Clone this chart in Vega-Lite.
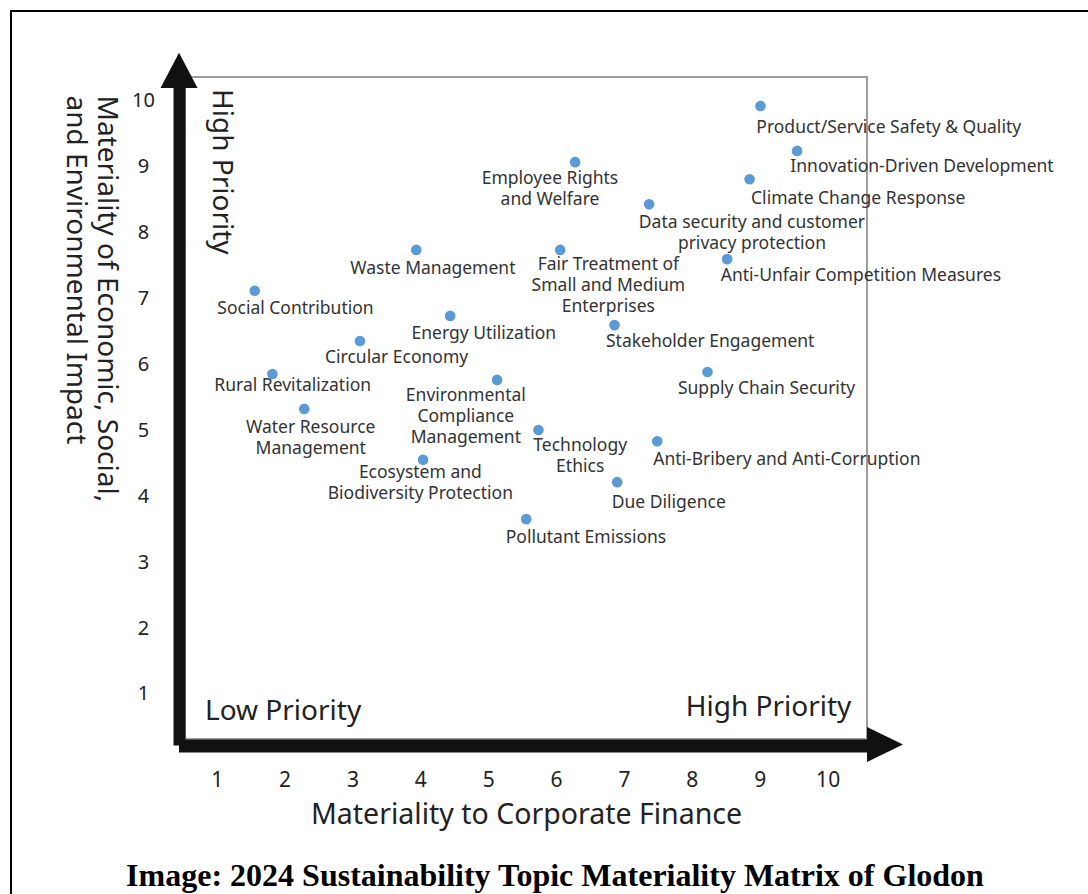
{
  "$schema": "https://vega.github.io/schema/vega-lite/v6.json",
  "autosize": {"type": "none"},
  "padding": {"left": 185, "top": 77, "right": 221, "bottom": 155},
  "width": 682,
  "height": 662,
  "title": {
    "text": "Image: 2024 Sustainability Topic Materiality Matrix of Glodon",
    "orient": "bottom",
    "anchor": "middle",
    "frame": "group",
    "font": "Liberation Serif",
    "fontSize": 32,
    "fontWeight": "bold",
    "color": "#000000",
    "baseline": "alphabetic",
    "offset": -9,
    "dx": 29
  },
  "datasets": {
    "topics": [
      {"topic": "Product/Service Safety & Quality", "x": 9.01, "y": 9.91, "label": ["Product/Service Safety & Quality"], "lx": 10.90, "ly": 9.58},
      {"topic": "Innovation-Driven Development", "x": 9.55, "y": 9.23, "label": ["Innovation-Driven Development"], "lx": 11.39, "ly": 8.98},
      {"topic": "Climate Change Response", "x": 8.85, "y": 8.80, "label": ["Climate Change Response"], "lx": 10.45, "ly": 8.50},
      {"topic": "Employee Rights and Welfare", "x": 6.28, "y": 9.06, "label": ["Employee Rights", "and Welfare"], "lx": 5.91, "ly": 8.803},
      {"topic": "Data security and customer privacy protection", "x": 7.37, "y": 8.42, "label": ["Data security and customer", "privacy protection"], "lx": 8.885, "ly": 8.132},
      {"topic": "Fair Treatment of Small and Medium Enterprises", "x": 6.06, "y": 7.73, "label": ["Fair Treatment of", "Small and Medium", "Enterprises"], "lx": 6.77, "ly": 7.50},
      {"topic": "Anti-Unfair Competition Measures", "x": 8.52, "y": 7.59, "label": ["Anti-Unfair Competition Measures"], "lx": 10.49, "ly": 7.33},
      {"topic": "Waste Management", "x": 3.94, "y": 7.73, "label": ["Waste Management"], "lx": 4.185, "ly": 7.435},
      {"topic": "Social Contribution", "x": 1.56, "y": 7.11, "label": ["Social Contribution"], "lx": 2.16, "ly": 6.83},
      {"topic": "Energy Utilization", "x": 4.44, "y": 6.73, "label": ["Energy Utilization"], "lx": 4.935, "ly": 6.45},
      {"topic": "Circular Economy", "x": 3.11, "y": 6.35, "label": ["Circular Economy"], "lx": 3.65, "ly": 6.085},
      {"topic": "Stakeholder Engagement", "x": 6.86, "y": 6.59, "label": ["Stakeholder Engagement"], "lx": 8.27, "ly": 6.33},
      {"topic": "Rural Revitalization", "x": 1.82, "y": 5.85, "label": ["Rural Revitalization"], "lx": 2.12, "ly": 5.66},
      {"topic": "Environmental Compliance Management", "x": 5.13, "y": 5.76, "label": ["Environmental", "Compliance", "Management"], "lx": 4.67, "ly": 5.52},
      {"topic": "Supply Chain Security", "x": 8.23, "y": 5.88, "label": ["Supply Chain Security"], "lx": 9.10, "ly": 5.62},
      {"topic": "Water Resource Management", "x": 2.29, "y": 5.32, "label": ["Water Resource", "Management"], "lx": 2.385, "ly": 5.026},
      {"topic": "Technology Ethics", "x": 5.74, "y": 5.0, "label": ["Technology", "Ethics"], "lx": 6.355, "ly": 4.758},
      {"topic": "Anti-Bribery and Anti-Corruption", "x": 7.49, "y": 4.83, "label": ["Anti-Bribery and Anti-Corruption"], "lx": 9.40, "ly": 4.545},
      {"topic": "Ecosystem and Biodiversity Protection", "x": 4.04, "y": 4.55, "label": ["Ecosystem and", "Biodiversity Protection"], "lx": 4.00, "ly": 4.344},
      {"topic": "Due Diligence", "x": 6.90, "y": 4.21, "label": ["Due Diligence"], "lx": 7.66, "ly": 3.89},
      {"topic": "Pollutant Emissions", "x": 5.56, "y": 3.65, "label": ["Pollutant Emissions"], "lx": 6.44, "ly": 3.36}
    ]
  },
  "layer": [
    {
      "data": {"values": [
        {"x": -2.045, "x2": 15, "y": 11.35, "y2": 11.35},
        {"x": -2.03, "x2": -2.03, "y": 11.35, "y2": -2.03}
      ]},
      "mark": {"type": "rule", "stroke": "#000000", "strokeWidth": 2},
      "encoding": {
        "x": {"field": "x", "type": "quantitative"},
        "x2": {"field": "x2"},
        "y": {"field": "y", "type": "quantitative"},
        "y2": {"field": "y2"}
      }
    },
    {
      "mark": {"type": "rule", "stroke": "#9e9e9e", "strokeWidth": 2},
      "encoding": {"x": {"datum": 5.57, "type": "quantitative"}}
    },
    {
      "mark": {"type": "rule", "stroke": "#9e9e9e", "strokeWidth": 2},
      "encoding": {"y": {"datum": 5.32, "type": "quantitative"}}
    },
    {
      "data": {"name": "topics"},
      "mark": {"type": "circle", "size": 113, "fill": "#5b9bd5", "opacity": 1},
      "encoding": {
        "x": {"field": "x", "type": "quantitative",
          "scale": {"domain": [0.533, 10.58], "nice": false, "zero": false},
          "axis": {
            "values": [1, 2, 3, 4, 5, 6, 7, 8, 9, 10],
            "format": "d",
            "offset": 6.5,
            "domainWidth": 13,
            "domainColor": "#111111",
            "domainCap": "square",
            "ticks": false,
            "grid": false,
            "labelFontSize": 21,
            "labelPadding": 41,
            "labelBaseline": "alphabetic",
            "labelColor": "#222222",
            "labelFont": "Noto Sans",
            "title": "Materiality to Corporate Finance",
            "titleFont": "Noto Sans",
            "titleFontSize": 28.5,
            "titleFontWeight": "normal",
            "titleColor": "#222222",
            "titleBaseline": "alphabetic",
            "titleY": 77.5
          }
        },
        "y": {"field": "y", "type": "quantitative",
          "scale": {"domain": [0.318, 10.35], "nice": false, "zero": false},
          "axis": {
            "values": [1, 2, 3, 4, 5, 6, 7, 8, 9, 10],
            "format": "d",
            "offset": 6,
            "domainWidth": 12,
            "domainColor": "#111111",
            "domainCap": "square",
            "ticks": false,
            "grid": false,
            "labelFontSize": 20,
            "labelPadding": 36,
            "labelAlign": "center",
            "labelBaseline": "middle",
            "labelColor": "#222222",
            "labelFont": "Noto Sans",
            "title": ["Materiality of Economic, Social,", "and Environmental Impact"],
            "titleFont": "Noto Sans",
            "titleFontSize": 28,
            "titleFontWeight": "normal",
            "titleColor": "#222222",
            "titleAngle": 90,
            "titleAlign": "left",
            "titleBaseline": "top",
            "titleLineHeight": 31,
            "titleX": -60,
            "titleY": 18
          }
        }
      }
    },
    {
      "data": {"name": "topics"},
      "mark": {"type": "text", "font": "Noto Sans", "fontSize": 17.5, "color": "#333333", "align": "center", "baseline": "middle", "lineHeight": 21},
      "encoding": {
        "x": {"field": "lx", "type": "quantitative"},
        "y": {"field": "ly", "type": "quantitative"},
        "text": {"field": "label"}
      }
    },
    {
      "data": {"values": [{"note": "High Priority", "x": 1.27, "y": 10.168}]},
      "mark": {"type": "text", "font": "Noto Sans", "fontSize": 28, "color": "#222222", "angle": 90, "align": "left", "baseline": "top"},
      "encoding": {
        "x": {"field": "x", "type": "quantitative"},
        "y": {"field": "y", "type": "quantitative"},
        "text": {"field": "note"}
      }
    },
    {
      "data": {"values": [{"note": "Low Priority", "x": 0.828, "y": 0.606}]},
      "mark": {"type": "text", "font": "Noto Sans", "fontSize": 28, "color": "#222222", "align": "left", "baseline": "alphabetic"},
      "encoding": {
        "x": {"field": "x", "type": "quantitative"},
        "y": {"field": "y", "type": "quantitative"},
        "text": {"field": "note"}
      }
    },
    {
      "data": {"values": [{"note": "High Priority", "x": 10.35, "y": 0.667}]},
      "mark": {"type": "text", "font": "Noto Sans", "fontSize": 28, "color": "#222222", "align": "right", "baseline": "alphabetic"},
      "encoding": {
        "x": {"field": "x", "type": "quantitative"},
        "y": {"field": "y", "type": "quantitative"},
        "text": {"field": "note"}
      }
    },
    {
      "data": {"values": [{"arrow": "y", "x": 0.445, "y": 10.45}]},
      "mark": {"type": "point", "shape": "M0,-0.95L1,0.95L-1,0.95Z", "size": 1369, "filled": true, "fill": "#111111", "opacity": 1, "strokeWidth": 0},
      "encoding": {
        "x": {"field": "x", "type": "quantitative"},
        "y": {"field": "y", "type": "quantitative"}
      }
    },
    {
      "data": {"values": [{"arrow": "x", "x": 10.845, "y": 0.235}]},
      "mark": {"type": "point", "shape": "M-1,-0.97L1,0L-1,0.97Z", "size": 1296, "filled": true, "fill": "#111111", "opacity": 1, "strokeWidth": 0},
      "encoding": {
        "x": {"field": "x", "type": "quantitative"},
        "y": {"field": "y", "type": "quantitative"}
      }
    }
  ],
  "config": {
    "view": {"stroke": "#9e9e9e", "strokeWidth": 2},
    "font": "Noto Sans"
  }
}
